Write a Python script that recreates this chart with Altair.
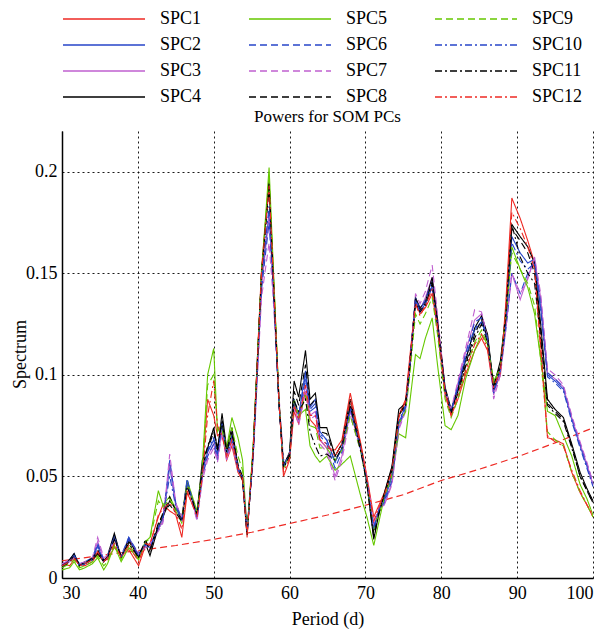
import altair as alt
import pandas as pd

periods = [30, 31, 31.6, 32.3, 33, 34, 34.7, 35.5, 36, 36.9,
           37.8, 38.8, 40.1, 41, 41.6, 42.7, 43.3, 44.2, 45, 45.8,
           46.5, 47.8, 48.5, 49.2, 50, 50.5, 51.1, 51.7, 52.4, 53.2,
           53.8, 54.4, 55.2, 56.3, 57.3, 57.8, 58.6, 59.2, 60.0, 60.6,
           61.2, 62.1, 62.7, 63.4, 64.0, 64.9, 66.0, 66.9, 68.0, 69.4,
           70.2, 71.1, 71.8, 72.5, 73.5, 74.4, 75.3, 75.8, 76.6, 77.2,
           77.9, 78.8, 79.5, 80.5, 81.3, 82.2, 83.2, 84.4, 85.3, 86.1,
           86.9, 87.8, 88.5, 89.3, 90.4, 91.4, 92.3, 93.1, 94.0, 95.0,
           96.1, 97.2, 98.3, 99.2, 100]

spc1 = [0.007, 0.006, 0.009, 0.007, 0.006, 0.008, 0.012, 0.009, 0.009, 0.015,
        0.011, 0.014, 0.006, 0.016, 0.017, 0.030, 0.036, 0.033, 0.031, 0.020,
        0.042, 0.031, 0.052, 0.088, 0.080, 0.070, 0.072, 0.058, 0.065, 0.052,
        0.048, 0.020, 0.064, 0.152, 0.196, 0.155, 0.088, 0.050, 0.058, 0.082,
        0.076, 0.092, 0.078, 0.075, 0.068, 0.064, 0.063, 0.068, 0.091, 0.066,
        0.050, 0.030, 0.036, 0.042, 0.054, 0.080, 0.088, 0.107, 0.136, 0.130,
        0.133, 0.140, 0.122, 0.090, 0.080, 0.088, 0.100, 0.112, 0.118, 0.112,
        0.092, 0.100, 0.135, 0.187, 0.177, 0.166, 0.155, 0.115, 0.069, 0.068,
        0.066, 0.052, 0.042, 0.036, 0.030]
spc2 = [0.006, 0.009, 0.012, 0.006, 0.007, 0.009, 0.016, 0.008, 0.010, 0.021,
        0.010, 0.020, 0.011, 0.016, 0.015, 0.024, 0.028, 0.055, 0.036, 0.028,
        0.048, 0.030, 0.052, 0.062, 0.068, 0.060, 0.077, 0.061, 0.070, 0.054,
        0.049, 0.022, 0.061, 0.146, 0.180, 0.148, 0.086, 0.055, 0.060, 0.088,
        0.080, 0.102, 0.084, 0.088, 0.072, 0.068, 0.057, 0.064, 0.084, 0.063,
        0.047, 0.024, 0.033, 0.038, 0.050, 0.076, 0.085, 0.103, 0.137, 0.131,
        0.135, 0.143, 0.124, 0.093, 0.082, 0.094, 0.108, 0.122, 0.126, 0.118,
        0.092, 0.103, 0.125, 0.168, 0.160, 0.155, 0.157, 0.133, 0.100, 0.097,
        0.093, 0.078, 0.065, 0.055, 0.046]
spc3 = [0.006, 0.008, 0.010, 0.006, 0.007, 0.009, 0.018, 0.009, 0.010, 0.019,
        0.010, 0.019, 0.012, 0.016, 0.016, 0.024, 0.028, 0.057, 0.036, 0.029,
        0.047, 0.029, 0.050, 0.060, 0.066, 0.058, 0.073, 0.059, 0.067, 0.053,
        0.050, 0.024, 0.060, 0.143, 0.178, 0.146, 0.088, 0.056, 0.060, 0.085,
        0.077, 0.095, 0.080, 0.082, 0.068, 0.064, 0.050, 0.060, 0.082, 0.063,
        0.048, 0.026, 0.034, 0.036, 0.047, 0.074, 0.083, 0.101, 0.138, 0.132,
        0.138, 0.148, 0.127, 0.092, 0.082, 0.096, 0.111, 0.127, 0.130, 0.119,
        0.090, 0.102, 0.123, 0.150, 0.137, 0.148, 0.157, 0.138, 0.101, 0.098,
        0.094, 0.079, 0.066, 0.056, 0.046]
spc4 = [0.006, 0.009, 0.012, 0.006, 0.008, 0.009, 0.012, 0.008, 0.011, 0.022,
        0.010, 0.019, 0.010, 0.017, 0.011, 0.025, 0.030, 0.038, 0.034, 0.030,
        0.047, 0.031, 0.058, 0.064, 0.074, 0.063, 0.081, 0.064, 0.074, 0.055,
        0.048, 0.022, 0.063, 0.150, 0.195, 0.150, 0.086, 0.055, 0.062, 0.097,
        0.089, 0.112, 0.088, 0.091, 0.074, 0.074, 0.060, 0.066, 0.088, 0.064,
        0.046, 0.019, 0.032, 0.042, 0.055, 0.083, 0.086, 0.103, 0.138, 0.133,
        0.136, 0.148, 0.127, 0.094, 0.083, 0.093, 0.107, 0.123, 0.129, 0.120,
        0.094, 0.107, 0.130, 0.174, 0.168, 0.163, 0.155, 0.125, 0.088, 0.083,
        0.079, 0.066, 0.052, 0.044, 0.038]
spc5 = [0.004, 0.005, 0.008, 0.004, 0.005, 0.007, 0.010, 0.004, 0.007, 0.016,
        0.008, 0.015, 0.009, 0.018, 0.020, 0.043, 0.036, 0.040, 0.034, 0.030,
        0.048, 0.033, 0.055, 0.100, 0.113, 0.072, 0.076, 0.064, 0.079, 0.069,
        0.058, 0.023, 0.065, 0.150, 0.202, 0.158, 0.088, 0.055, 0.060, 0.088,
        0.080, 0.083, 0.065, 0.060, 0.057, 0.060, 0.053, 0.056, 0.060, 0.040,
        0.030, 0.016, 0.028, 0.040, 0.050, 0.071, 0.069, 0.085, 0.110, 0.108,
        0.118, 0.128, 0.105, 0.075, 0.073, 0.080, 0.098, 0.112, 0.120, 0.115,
        0.097, 0.103, 0.125, 0.163, 0.152, 0.143, 0.130, 0.108, 0.082, 0.080,
        0.070, 0.060, 0.046, 0.039, 0.031]
spc6 = [0.007, 0.008, 0.011, 0.007, 0.008, 0.010, 0.017, 0.009, 0.011, 0.020,
        0.011, 0.020, 0.012, 0.016, 0.016, 0.025, 0.029, 0.058, 0.037, 0.029,
        0.049, 0.029, 0.050, 0.060, 0.066, 0.058, 0.074, 0.060, 0.068, 0.053,
        0.050, 0.023, 0.060, 0.142, 0.175, 0.145, 0.087, 0.056, 0.061, 0.086,
        0.078, 0.098, 0.082, 0.084, 0.070, 0.066, 0.054, 0.062, 0.083, 0.063,
        0.047, 0.025, 0.034, 0.037, 0.048, 0.075, 0.084, 0.102, 0.138, 0.132,
        0.137, 0.146, 0.126, 0.092, 0.082, 0.095, 0.110, 0.126, 0.128, 0.118,
        0.091, 0.102, 0.122, 0.150, 0.140, 0.150, 0.156, 0.137, 0.101, 0.098,
        0.094, 0.079, 0.066, 0.056, 0.047]
spc7 = [0.007, 0.009, 0.010, 0.007, 0.008, 0.010, 0.020, 0.010, 0.011, 0.019,
        0.011, 0.018, 0.012, 0.015, 0.017, 0.023, 0.027, 0.061, 0.037, 0.030,
        0.046, 0.028, 0.048, 0.058, 0.064, 0.057, 0.072, 0.058, 0.066, 0.054,
        0.051, 0.025, 0.058, 0.138, 0.165, 0.140, 0.090, 0.058, 0.061, 0.083,
        0.075, 0.092, 0.078, 0.080, 0.066, 0.062, 0.048, 0.058, 0.080, 0.062,
        0.049, 0.027, 0.035, 0.036, 0.046, 0.073, 0.082, 0.102, 0.140, 0.135,
        0.141, 0.154, 0.130, 0.093, 0.083, 0.097, 0.113, 0.132, 0.131, 0.118,
        0.088, 0.100, 0.122, 0.150, 0.140, 0.147, 0.158, 0.140, 0.103, 0.100,
        0.095, 0.080, 0.067, 0.057, 0.047]
spc8 = [0.005, 0.008, 0.011, 0.006, 0.007, 0.009, 0.014, 0.008, 0.010, 0.020,
        0.010, 0.018, 0.011, 0.018, 0.014, 0.027, 0.031, 0.040, 0.033, 0.029,
        0.046, 0.032, 0.055, 0.063, 0.072, 0.062, 0.078, 0.063, 0.072, 0.056,
        0.050, 0.022, 0.062, 0.149, 0.192, 0.151, 0.086, 0.056, 0.061, 0.092,
        0.085, 0.105, 0.085, 0.088, 0.072, 0.071, 0.060, 0.066, 0.086, 0.064,
        0.047, 0.022, 0.033, 0.041, 0.054, 0.080, 0.086, 0.104, 0.137, 0.132,
        0.135, 0.146, 0.126, 0.093, 0.082, 0.092, 0.105, 0.120, 0.127, 0.118,
        0.095, 0.105, 0.128, 0.172, 0.166, 0.160, 0.150, 0.122, 0.086, 0.082,
        0.078, 0.065, 0.050, 0.043, 0.037]
spc9 = [0.005, 0.007, 0.009, 0.005, 0.006, 0.008, 0.011, 0.006, 0.008, 0.017,
        0.009, 0.017, 0.009, 0.018, 0.019, 0.038, 0.035, 0.039, 0.033, 0.027,
        0.046, 0.032, 0.053, 0.095, 0.100, 0.073, 0.073, 0.062, 0.074, 0.060,
        0.053, 0.022, 0.064, 0.150, 0.198, 0.156, 0.088, 0.054, 0.059, 0.087,
        0.079, 0.090, 0.075, 0.074, 0.064, 0.064, 0.058, 0.063, 0.080, 0.062,
        0.046, 0.024, 0.032, 0.040, 0.051, 0.076, 0.082, 0.098, 0.130, 0.125,
        0.130, 0.138, 0.120, 0.088, 0.079, 0.088, 0.102, 0.116, 0.122, 0.115,
        0.096, 0.104, 0.130, 0.160, 0.152, 0.145, 0.134, 0.108, 0.072, 0.068,
        0.065, 0.052, 0.042, 0.036, 0.030]
spc10 = [0.006, 0.008, 0.011, 0.006, 0.007, 0.009, 0.015, 0.008, 0.010, 0.020,
         0.010, 0.019, 0.011, 0.017, 0.015, 0.025, 0.030, 0.050, 0.035, 0.028,
         0.047, 0.031, 0.053, 0.063, 0.069, 0.061, 0.076, 0.062, 0.070, 0.055,
         0.049, 0.022, 0.061, 0.147, 0.183, 0.149, 0.086, 0.055, 0.060, 0.088,
         0.080, 0.100, 0.083, 0.086, 0.071, 0.068, 0.057, 0.064, 0.084, 0.063,
         0.047, 0.024, 0.034, 0.039, 0.051, 0.077, 0.085, 0.103, 0.137, 0.131,
         0.135, 0.144, 0.124, 0.093, 0.082, 0.094, 0.108, 0.123, 0.126, 0.118,
         0.092, 0.103, 0.125, 0.165, 0.156, 0.152, 0.155, 0.132, 0.099, 0.096,
         0.092, 0.077, 0.064, 0.054, 0.045]
spc11 = [0.006, 0.008, 0.010, 0.007, 0.007, 0.010, 0.013, 0.009, 0.010, 0.019,
         0.011, 0.017, 0.010, 0.019, 0.013, 0.026, 0.032, 0.036, 0.032, 0.028,
         0.045, 0.031, 0.054, 0.065, 0.073, 0.064, 0.077, 0.062, 0.071, 0.054,
         0.049, 0.021, 0.062, 0.150, 0.194, 0.152, 0.087, 0.054, 0.060, 0.087,
         0.082, 0.088, 0.072, 0.065, 0.060, 0.061, 0.058, 0.064, 0.085, 0.062,
         0.046, 0.020, 0.032, 0.041, 0.053, 0.080, 0.085, 0.102, 0.135, 0.131,
         0.134, 0.145, 0.125, 0.092, 0.081, 0.091, 0.104, 0.118, 0.125, 0.116,
         0.093, 0.104, 0.128, 0.174, 0.158, 0.150, 0.145, 0.118, 0.085, 0.081,
         0.077, 0.064, 0.050, 0.043, 0.037]
spc12 = [0.006, 0.008, 0.010, 0.006, 0.007, 0.009, 0.013, 0.008, 0.010, 0.017,
         0.010, 0.016, 0.008, 0.017, 0.016, 0.031, 0.034, 0.037, 0.032, 0.024,
         0.043, 0.030, 0.050, 0.080, 0.097, 0.075, 0.070, 0.060, 0.068, 0.054,
         0.049, 0.021, 0.063, 0.150, 0.193, 0.153, 0.087, 0.052, 0.059, 0.085,
         0.078, 0.095, 0.080, 0.080, 0.068, 0.066, 0.060, 0.066, 0.088, 0.065,
         0.049, 0.028, 0.035, 0.041, 0.053, 0.079, 0.087, 0.105, 0.135, 0.129,
         0.134, 0.142, 0.124, 0.092, 0.080, 0.090, 0.102, 0.115, 0.120, 0.113,
         0.094, 0.102, 0.132, 0.180, 0.172, 0.163, 0.152, 0.112, 0.070, 0.067,
         0.065, 0.053, 0.043, 0.036, 0.031]

series_names = ["SPC1", "SPC2", "SPC3", "SPC4", "SPC5", "SPC6",
                "SPC7", "SPC8", "SPC9", "SPC10", "SPC11", "SPC12"]
series_values = [spc1, spc2, spc3, spc4, spc5, spc6,
                 spc7, spc8, spc9, spc10, spc11, spc12]

# significance (red-noise) level
sig_periods = [30, 35, 40, 45, 50, 55, 60, 65, 70, 75, 80, 85, 90, 95, 100]
sig_values = [0.0085, 0.011, 0.0135, 0.016, 0.019, 0.0225, 0.0268, 0.031,
              0.0358, 0.041, 0.048, 0.0535, 0.0596, 0.0665, 0.0739]

x_ticks = [30, 40, 50, 60, 70, 80, 90, 100]
y_ticks = [0, 0.05, 0.1, 0.15, 0.2]

RED = "#ee2a24"
BLUE = "#2746c9"
PURPLE = "#c060d0"
GREEN = "#66c800"
BLACK = "#000000"
SOLID = [1, 0]
DASH = [7, 4]
DASHDOT = [7, 3, 2, 3]

style = {
    "SPC1": (RED, SOLID), "SPC2": (BLUE, SOLID), "SPC3": (PURPLE, SOLID),
    "SPC4": (BLACK, SOLID), "SPC5": (GREEN, SOLID), "SPC6": (BLUE, DASH),
    "SPC7": (PURPLE, DASH), "SPC8": (BLACK, DASH), "SPC9": (GREEN, DASH),
    "SPC10": (BLUE, DASHDOT), "SPC11": (BLACK, DASHDOT), "SPC12": (RED, DASHDOT),
}
color_range = [style[s][0] for s in series_names]
dash_range = [style[s][1] for s in series_names]

rows = []
for name, vals in zip(series_names, series_values):
    for p, v in zip(periods, vals):
        rows.append({"period": p, "power": v, "series": name})
df = pd.DataFrame(rows)
sig_df = pd.DataFrame({"period": sig_periods, "power": sig_values})

FONT = "Liberation Serif, Times New Roman, serif"

x_enc = alt.X("period:Q",
              scale=alt.Scale(domain=[30, 100], nice=False, zero=False),
              axis=alt.Axis(values=x_ticks, title="Period (d)", titleY=41,
                            titleBaseline="middle"))
y_enc = alt.Y("power:Q",
              scale=alt.Scale(domain=[0, 0.22], nice=False),
              axis=alt.Axis(values=y_ticks, format="~g", title="Spectrum",
                            titleX=-42, titleY=223, titleBaseline="middle"))

lines = alt.Chart(df).mark_line(strokeWidth=1.1).encode(
    x=x_enc,
    y=y_enc,
    color=alt.Color("series:N", title=None,
                    scale=alt.Scale(domain=series_names, range=color_range),
                    legend=alt.Legend(orient="none", legendX=0, legendY=-121,
                                      columns=3, symbolType="stroke",
                                      symbolSize=6724, symbolStrokeWidth=1.3,
                                      clipHeight=18, labelFontSize=18,
                                      labelFont=FONT, labelColor="#000",
                                      labelOffset=14, rowPadding=8,
                                      columnPadding=46, padding=0)),
    strokeDash=alt.StrokeDash("series:N", title=None,
                              scale=alt.Scale(domain=series_names, range=dash_range)),
)

sig = alt.Chart(sig_df).mark_line(color=RED, strokeWidth=1.2,
                                  strokeDash=[7, 4]).encode(
    x="period:Q", y="power:Q")

chart = alt.layer(sig, lines).properties(
    width=531, height=447,
    title=alt.Title("Powers for SOM PCs", fontSize=17, font=FONT,
                    fontWeight="normal", color="#000", offset=4, dy=120),
    autosize=alt.AutoSizeParams(type="none"),
    padding={"left": 62, "top": 131, "right": 12, "bottom": 51},
).configure_view(stroke=None).configure_axis(
    labelFont=FONT, labelFontSize=18, labelColor="#000",
    titleFont=FONT, titleFontSize=18, titleFontWeight="normal", titleColor="#000",
    domainColor="#000", domainWidth=1.5, ticks=False, labelPadding=6,
    gridColor="#000", gridDash=[2, 3], gridWidth=1, gridOpacity=0.9,
).configure_axisY(labelPadding=5)

chart.save("out.html", embed_options={"renderer": "svg", "actions": False})
